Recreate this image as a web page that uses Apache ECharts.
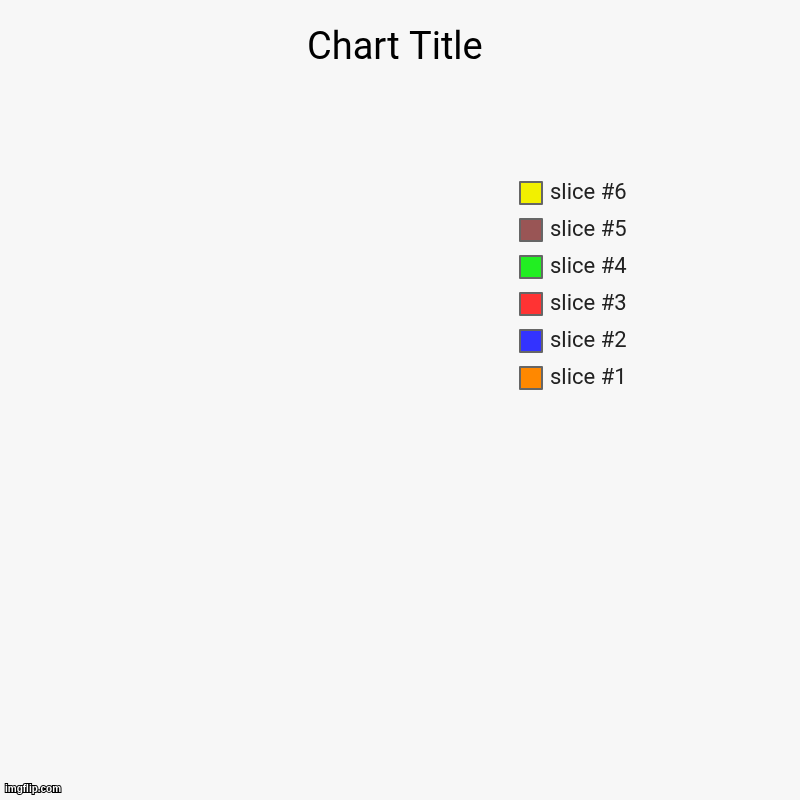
<!DOCTYPE html>
<html>
<head>
<meta charset="utf-8">
<script src="https://cdn.jsdelivr.net/npm/echarts@6/dist/echarts.min.js"></script>
<style>
  html, body { margin: 0; padding: 0; background: #f7f7f7; }
  #main { width: 800px; height: 800px; }
</style>
</head>
<body>
<div id="main"></div>
<script>
// slices as shown (all values zero, so only the legend is visible)
var sliceNames = ['slice #1', 'slice #2', 'slice #3', 'slice #4', 'slice #5', 'slice #6'];
var sliceValues = [0, 0, 0, 0, 0, 0];
var sliceColors = ['#ff8800', '#3333ff', '#ff3333', '#22ee22', '#995555', '#f2f000'];

var myChart = echarts.init(document.getElementById('main'));

var pieData = sliceNames.map(function (n, i) {
    return { name: n, value: sliceValues[i], itemStyle: { color: sliceColors[i] } };
});

myChart.setOption({
    backgroundColor: '#f7f7f7',
    animation: false,
    title: {
        text: 'Chart Title',
        left: 302,
        top: 25,
        textStyle: { fontFamily: 'Roboto', fontSize: 38, fontWeight: 'normal', color: '#000' }
    },
    legend: {
        orient: 'vertical',
        left: 519,
        top: 181,
        padding: 0,
        itemWidth: 22,
        itemHeight: 22,
        itemGap: 13,
        icon: 'rect',
        data: sliceNames.slice().reverse(),
        itemStyle: { borderColor: '#666', borderWidth: 2 },
        textStyle: { fontFamily: 'Roboto', fontSize: 22, lineHeight: 22, color: '#222', padding: [0, 0, 0, 3] },
        selectedMode: false
    },
    graphic: [{
        type: 'text',
        left: 4,
        bottom: 5,
        style: {
            text: 'imgflip.com',
            fontFamily: 'Arial',
            fontSize: 10,
            fontWeight: 'bold',
            fill: '#fff',
            stroke: '#000',
            lineWidth: 2
        }
    }],
    series: [{
        type: 'pie',
        center: ['30%', '52%'],
        radius: '40%',
        stillShowZeroSum: false,
        label: { show: false },
        labelLine: { show: false },
        data: pieData
    }]
});
</script>
</body>
</html>
